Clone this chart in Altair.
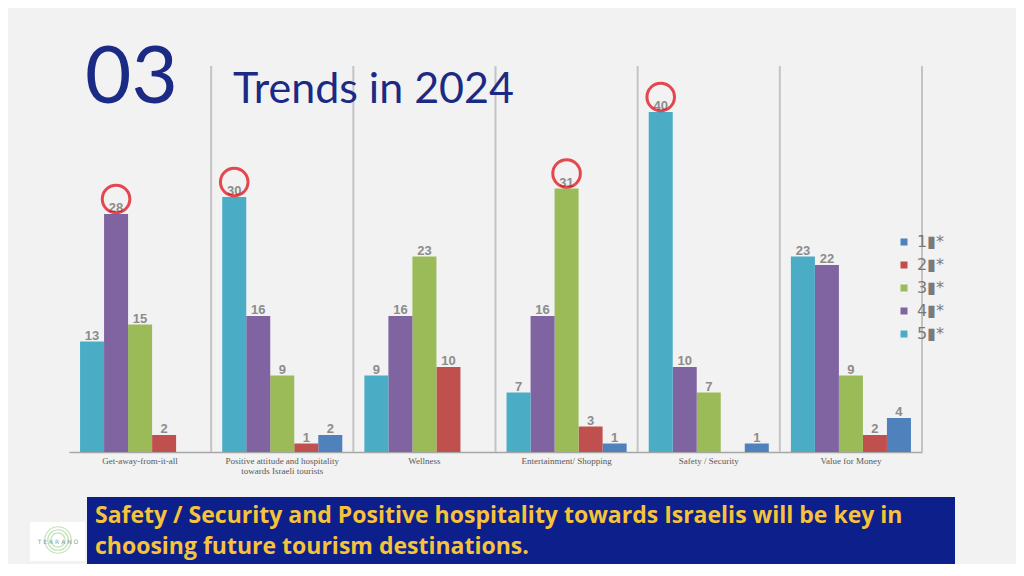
import altair as alt
import pandas as pd

# ---------------- data ----------------
categories = [
    "Get-away-from-it-all",
    "Positive attitude and hospitality towards Israeli tourists",
    "Wellness",
    "Entertainment/ Shopping",
    "Safety / Security",
    "Value for Money",
]
ranks = ["1", "2", "3", "4", "5"]
rank1 = [0, 2, 0, 1, 1, 4]
rank2 = [2, 1, 10, 3, 0, 2]
rank3 = [15, 9, 23, 31, 7, 9]
rank4 = [28, 16, 16, 16, 10, 22]
rank5 = [13, 30, 9, 7, 40, 23]
circled = [
    ("Get-away-from-it-all", "4"),
    ("Positive attitude and hospitality towards Israeli tourists", "5"),
    ("Entertainment/ Shopping", "3"),
    ("Safety / Security", "5"),
]
colors = ["#4F81BD", "#C0504D", "#9BBB59", "#8064A2", "#4BACC6"]

title_num = "03"
title_text = "Trends in 2024"
banner_lines = [
    "Safety / Security and Positive hospitality towards Israelis will be key in",
    "choosing future tourism destinations.",
]
logo_text = "T E R R A N O"

series = {"1": rank1, "2": rank2, "3": rank3, "4": rank4, "5": rank5}
rows = []
for r in ranks:
    for c, v in zip(categories, series[r]):
        if v > 0:
            rows.append({"cat": c, "rank": r, "value": v, "circ": (c, r) in circled})
df = pd.DataFrame(rows)
cat_df = pd.DataFrame({"cat": categories})

W, H = 853, 386
NAVY = "#1B2A84"

xenc = alt.X(
    "cat:N",
    sort=categories,
    scale=alt.Scale(paddingInner=0, paddingOuter=0),
    axis=alt.Axis(
        title=None,
        ticks=False,
        domainColor="#A6A6A6",
        domainWidth=1.5,
        labelFont="Liberation Serif",
        labelFontSize=9,
        labelColor="#595959",
        labelPadding=8,
        labelAngle=0,
        labelAlign="center",
        labelLineHeight=10,
        labelExpr="datum.label == 'Positive attitude and hospitality towards Israeli tourists' ? ['Positive attitude and hospitality', 'towards Israeli tourists'] : datum.label",
    ),
)
xoff = alt.XOffset(
    "rank:N",
    sort=["5", "4", "3", "2", "1"],
    scale=alt.Scale(paddingInner=0, paddingOuter=0.46),
)
yenc = alt.Y("value:Q", scale=alt.Scale(domain=[0, H / 8.5], nice=False, zero=True), axis=None)

rules = alt.Chart(cat_df).mark_rule(color="#C4C4C4", strokeWidth=2).encode(
    x=alt.X("cat:N", sort=categories, bandPosition=1),
    y=alt.value(0),
    y2=alt.value(H),
)

bars = alt.Chart(df).mark_bar().encode(
    x=xenc,
    xOffset=xoff,
    y=yenc,
    color=alt.Color(
        "rank:N",
        scale=alt.Scale(domain=ranks, range=colors),
        legend=alt.Legend(
            orient="none",
            legendX=827,
            legendY=168,
            title=None,
            symbolType="square",
            symbolSize=49,
            symbolStrokeWidth=0,
            labelFont="DejaVu Sans",
            labelFontSize=16,
            labelColor="#7A7A7A",
            labelOffset=5,
            rowPadding=7,
            padding=0,
            labelExpr="datum.label + '\u25AE*'",
        ),
    ),
)

labels = alt.Chart(df).mark_text(
    font="Liberation Sans", fontWeight="bold", fontSize=13, color="#8C8C8C",
    baseline="alphabetic", dy=-2,
).encode(x=xenc, xOffset=xoff, y=yenc, text="value:Q")

circles = alt.Chart(df).transform_filter("datum.circ").mark_point(
    shape="circle", filled=False, size=760, stroke="#E0000A", strokeWidth=3,
    xOffset=4, yOffset=-15,
).encode(x=xenc, xOffset=xoff, y=yenc)

t1 = alt.Chart(pd.DataFrame({"t": [title_num]})).mark_text(
    font="Lato", fontSize=80, color=NAVY, align="left", baseline="alphabetic"
).encode(x=alt.value(16), y=alt.value(37), text="t:N")

t2 = alt.Chart(pd.DataFrame({"t": [title_text]})).mark_text(
    font="Lato", fontSize=43, color=NAVY, align="left", baseline="alphabetic"
).encode(x=alt.value(164), y=alt.value(37), text="t:N")

banner = alt.Chart(pd.DataFrame({"a": [1]})).mark_rect(color="#0C1F8A").encode(
    x=alt.value(18), x2=alt.value(886), y=alt.value(431), y2=alt.value(505)
)
bt = alt.Chart(pd.DataFrame({"t": banner_lines, "yy": [457, 488]})).mark_text(
    font="Open Sans", fontWeight="bold", fontSize=23, color="#F6C33A",
    align="left", baseline="alphabetic",
).encode(x=alt.value(26), y=alt.Y("yy:Q", scale=None), text="t:N")

logo_bg = alt.Chart(pd.DataFrame({"a": [1]})).mark_rect(color="#FFFFFF").encode(
    x=alt.value(-39), x2=alt.value(16), y=alt.value(456), y2=alt.value(495)
)
logo_rings = alt.Chart(pd.DataFrame({"s": [700, 420, 200]})).mark_point(
    shape="circle", filled=False, stroke="#A8D89A", strokeWidth=1.2
).encode(x=alt.value(-11), y=alt.value(474), size=alt.Size("s:Q", scale=None, legend=None))
logo_t = alt.Chart(pd.DataFrame({"t": [logo_text]})).mark_text(
    font="DejaVu Sans", fontSize=6, color="#8A9A8A"
).encode(x=alt.value(-11), y=alt.value(476), text="t:N")

chart = alt.layer(
    rules, bars, labels, circles, t1, t2, banner, bt, logo_bg, logo_rings, logo_t
).properties(
    width=W,
    height=H,
    padding={"left": 61, "top": 58, "right": 94, "bottom": 112},
    autosize=alt.AutoSizeParams(type="none"),
    background="#F2F2F2",
).configure_view(stroke=None)

chart.save("out.html", embed_options={"renderer": "svg", "actions": False})
